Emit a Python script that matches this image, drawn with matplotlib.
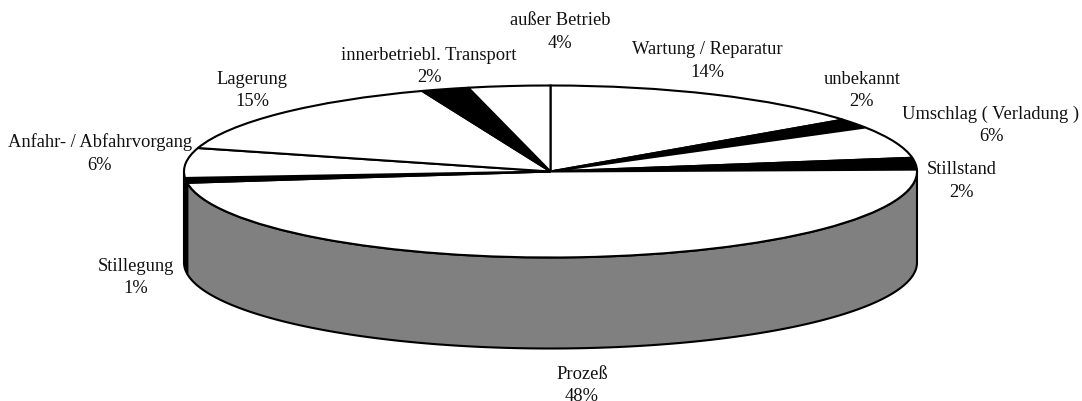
import numpy as np
import matplotlib
matplotlib.use("Agg")
import matplotlib.pyplot as plt

categories = ["Wartung / Reparatur", "unbekannt", "Umschlag ( Verladung )", "Stillstand", "Prozeß",
              "Stillegung", "Anfahr- / Abfahrvorgang", "Lagerung", "innerbetriebl. Transport", "außer Betrieb"]
percent_labels = ["14%", "2%", "6%", "2%", "48%", "1%", "6%", "15%", "2%", "4%"]
values = [14.7, 1.75, 6.0, 2.2, 48.25, 0.9, 5.6, 14.9, 2.1, 3.6]

W, H = 1082, 401
CX, CY, RX, RY, DEPTH = 550.5, 171.5, 366.5, 86.0, 91.0
top_colors = ["white", "black", "white", "black", "white", "black", "white", "white", "black", "white"]
wall_colors = ["#808080", "black", "#808080", "black", "#808080", "black", "#808080", "#808080", "black", "#808080"]
label_centers = [(707, 61), (862, 90.5), (991, 125.5), (962, 181), (582, 385.5),
                 (135.5, 277.5), (100, 153.5), (252, 90.5), (429, 66.5), (560, 32)]

fig = plt.figure(figsize=(W / 100, H / 100), dpi=100, facecolor="white")
ax = fig.add_axes([0, 0, 1, 1])
y_unit = DEPTH / RY
EDGE = 1.5

# side wall: visible (front) part of every slice
theta = 90.0
total = sum(values)
for v, wc in zip(values, wall_colors):
    t0, theta = theta, theta - 360.0 * v / total
    a = np.linspace(t0, theta, 300)
    a = a[np.sin(np.radians(a)) <= 0]
    if a.size < 2:
        continue
    xs, ys = np.cos(np.radians(a)), np.sin(np.radians(a))
    ax.fill(np.r_[xs, xs[::-1]], np.r_[ys, ys[::-1] - y_unit], facecolor=wc,
            edgecolor="black", linewidth=EDGE, zorder=1)

# top face
wedges, _ = ax.pie(values, colors=top_colors, startangle=90, counterclock=False, normalize=True,
                   wedgeprops=dict(edgecolor="black", linewidth=EDGE, zorder=2))
ax.set_aspect("auto")
ax.set_xlim(-CX / RX, (W - CX) / RX)
ax.set_ylim(-(H - CY) / RY, CY / RY)
ax.axis("off")

for name, pct, (px, py) in zip(categories, percent_labels, label_centers):
    ax.text(px / W, 1 - py / H, f"{name}\n{pct}", transform=ax.transAxes, ha="center", va="center",
            family="Liberation Serif", fontsize=13.3, color="#111111", linespacing=1.42, zorder=3)

fig.savefig("out.png", dpi=100, facecolor="white")
